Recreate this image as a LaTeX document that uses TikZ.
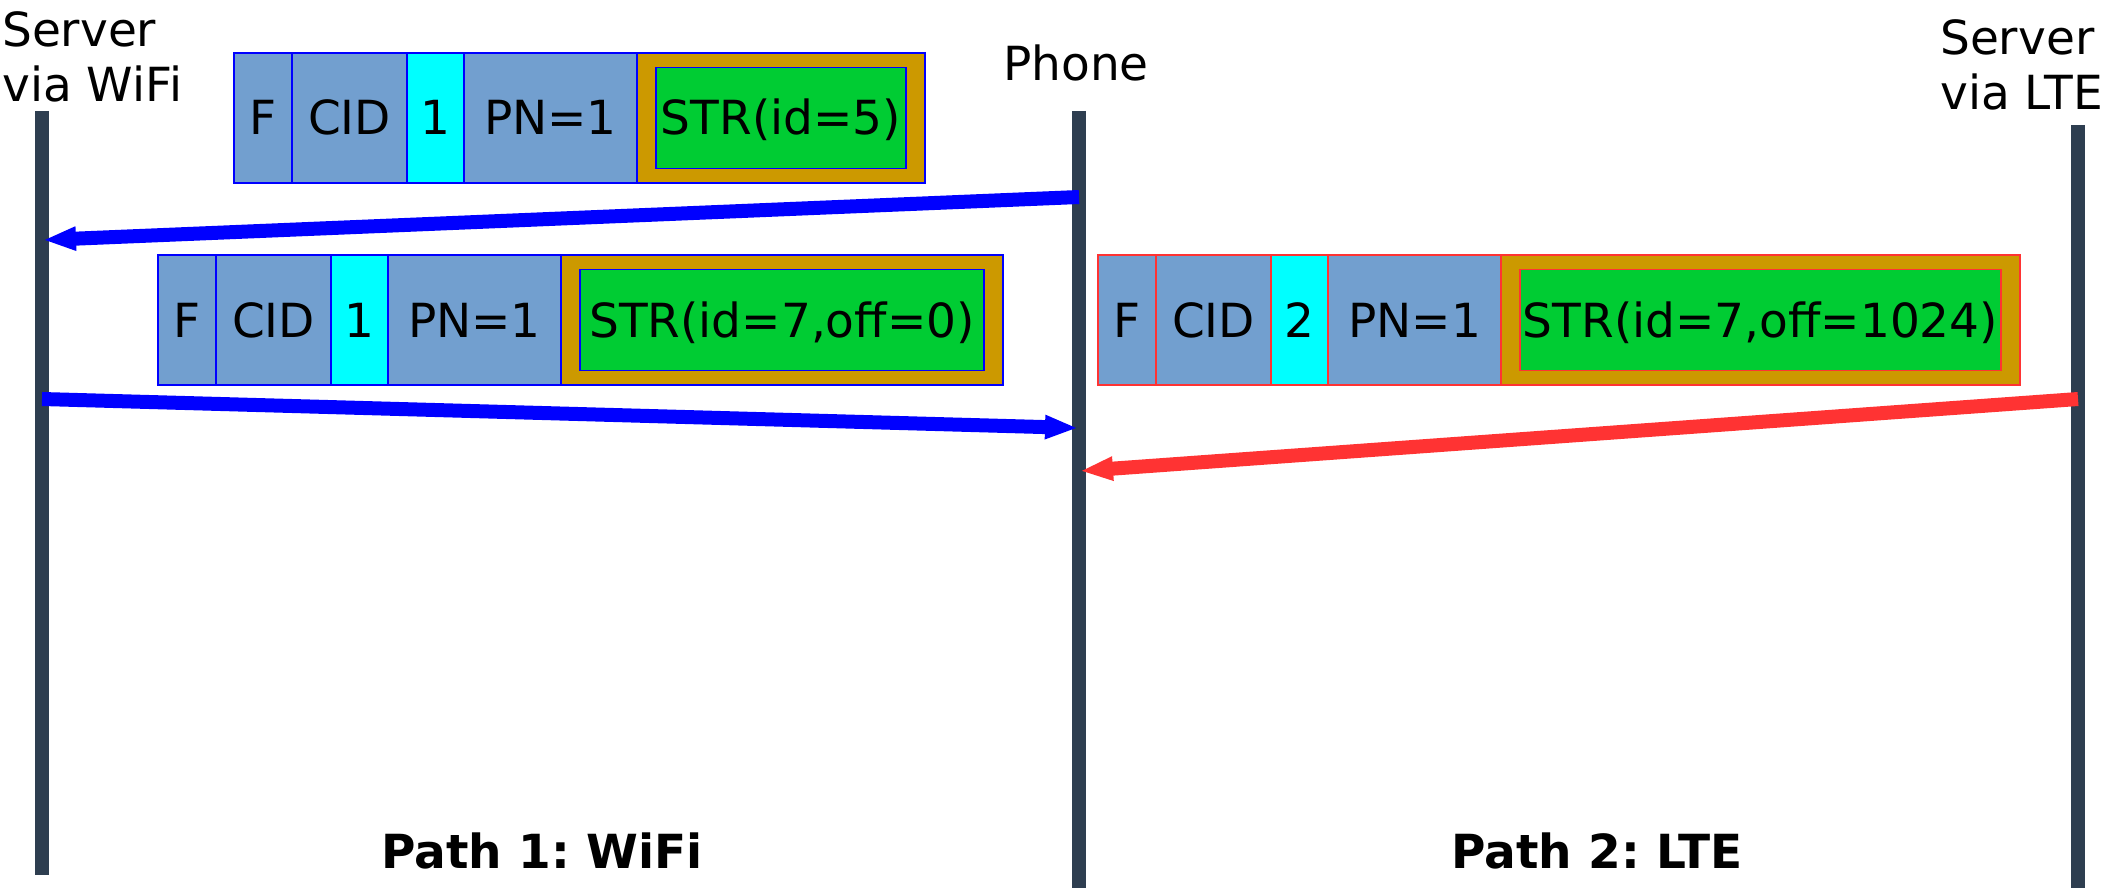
\documentclass[tikz,border=0pt]{standalone}
\usepackage{fontspec}
\setmainfont{DejaVu Sans}
\usepackage{xcolor}
\usepackage{tikz}
\usetikzlibrary{arrows.meta, positioning}
\frenchspacing

\definecolor{lifegray}{HTML}{2E3E50}
\definecolor{cellblue}{HTML}{729FCF}
\definecolor{seqcyan}{HTML}{00FFFF}
\definecolor{strgold}{HTML}{CC9900}
\definecolor{strgreen}{HTML}{00CC33}
\definecolor{lteRed}{HTML}{FF3333}

\begin{document}
\begin{tikzpicture}[
    x=1pt, y=-1pt,
    node distance=0pt and 0pt,
    every node/.style={font=\fontsize{47}{55}\selectfont},
    lifeline/.style={line width=14pt, lifegray},
    cell/.style={rectangle, draw=blue, line width=1.5pt, fill=cellblue, inner sep=0pt, outer sep=0pt, minimum height=130pt, text height=34pt, text depth=0pt},
    fcell/.style={cell, minimum width=58pt},
    cidcell/.style={cell, minimum width=115pt},
    numcell/.style={cell, fill=seqcyan, minimum width=57pt},
    pncell/.style={cell, minimum width=173pt},
    strbox/.style={cell, fill=strgold},
    strframe/.style={cell, fill=strgreen, minimum height=101pt},
    lte/.style={draw=lteRed},
    label/.style={inner sep=0pt, align=left},
    msg/.style={line width=14pt, -{Triangle[length=33pt, width=22pt]}}
]
    \fill [white] (0,0) rectangle (2111,888);
    \useasboundingbox (0,0) rectangle (2111,888);

    % end points
    \node [label, anchor=base west] (wifiLbl) at (2,102) {Server\\via WiFi};
    \node [label, anchor=base] (phoneLbl) at (1076,81) {Phone};
    \node [label, anchor=base west] (lteLbl) at (1940,110) {Server\\via LTE};

    \coordinate (wifiTop) at (42,111);
    \coordinate (wifiBot) at (42,875);
    \coordinate (phoneTop) at (1079,111);
    \coordinate (phoneBot) at (1079,888);
    \coordinate (lteTop) at (2078,125);
    \coordinate (lteBot) at (2078,888);

    \draw [lifeline] (wifiTop) -- (wifiBot);
    \draw [lifeline] (phoneTop) -- (phoneBot);
    \draw [lifeline] (lteTop) -- (lteBot);

    % packet phone -> server (wifi)
    \node [fcell, anchor=north west] (f1) at (234,53) {F};
    \node [cidcell, right=of f1] (cid1) {CID};
    \node [numcell, right=of cid1] (num1) {1};
    \node [pncell, right=of num1] (pn1) {PN=1};
    \node [strbox, minimum width=288pt, right=of pn1] (str1) {};
    \node [strframe, minimum width=250pt] (id1) at (str1.center) {STR(id=5)};

    % packet server -> phone (wifi)
    \node [fcell, anchor=north west] (f2) at (158,255) {F};
    \node [cidcell, right=of f2] (cid2) {CID};
    \node [numcell, right=of cid2] (num2) {1};
    \node [pncell, right=of num2] (pn2) {PN=1};
    \node [strbox, minimum width=442pt, right=of pn2] (str2) {};
    \node [strframe, minimum width=404pt] (id2) at (str2.center) {STR(id=7,off=0)};

    % packet server -> phone (lte)
    \node [fcell, lte, anchor=north west] (f3) at (1098,255) {F};
    \node [cidcell, lte, right=of f3] (cid3) {CID};
    \node [numcell, lte, right=of cid3] (num3) {2};
    \node [pncell, lte, right=of num3] (pn3) {PN=1};
    \node [strbox, lte, minimum width=519pt, right=of pn3] (str3) {};
    \node [strframe, lte, minimum width=481pt] (id3) at (str3.center) {STR(id=7,off=1024)};

    % messages
    \coordinate (m1from) at (1079,197);
    \coordinate (m1to) at (43,240);
    \coordinate (m2from) at (42,399);
    \coordinate (m2to) at (1078,428);
    \coordinate (m3from) at (2078,399);
    \coordinate (m3to) at (1080,471);

    \draw [msg, blue] (m1from) -- (m1to);
    \draw [msg, blue] (m2from) -- (m2to);
    \draw [msg, lteRed] (m3from) -- (m3to);

    \node [label, anchor=base, font=\fontsize{47}{55}\selectfont\bfseries] (path1) at (542,868) {Path 1: WiFi};
    \node [label, anchor=base, font=\fontsize{47}{55}\selectfont\bfseries] (path2) at (1597,868) {Path 2: LTE};
\end{tikzpicture}
\end{document}
